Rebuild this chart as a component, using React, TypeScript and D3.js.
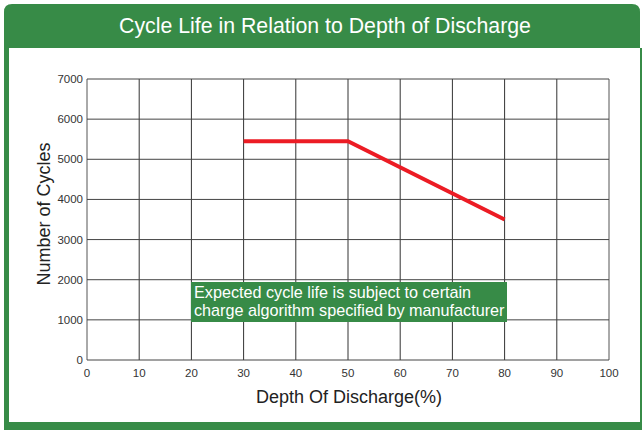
import * as d3 from "d3";

const W = 642, H = 430;
const GREEN = "#378b47";
const FONT = "Arial, 'Liberation Sans', Helvetica, sans-serif";

// data
const dod = [30, 50, 80];
const cycles = [5450, 5450, 3500];
const xTicks = [0, 10, 20, 30, 40, 50, 60, 70, 80, 90, 100];
const yTicks = [0, 1000, 2000, 3000, 4000, 5000, 6000, 7000];

const title = "Cycle Life in Relation to Depth of Discharge";
const note = [
  "Expected cycle life is subject to certain",
  "charge algorithm specified by manufacturer",
];

const M = { left: 87, right: 609, top: 79, bottom: 360 };

export default function App() {
  const x = d3.scaleLinear([0, 100], [M.left, M.right]);
  const y = d3.scaleLinear([0, 7000], [M.bottom, M.top]);
  const line = d3
    .line<number>()
    .x((d) => x(d))
    .y((_, i) => y(cycles[i]));

  return (
    <svg
      width={W}
      height={H}
      style={{ position: "fixed", left: 0, top: 0, background: "#fff", fontFamily: FONT }}
    >
      {/* green frame */}
      <path
        d={`M4,48 L4,12 Q4,4 12,4 L632,4 Q640,4 640,12 L640,48 Z`}
        fill={GREEN}
      />
      <rect x={4} y={48} width={5} height={376} fill={GREEN} />
      <rect x={640} y={48} width={2} height={376} fill={GREEN} />
      <rect x={4} y={422} width={638} height={8} fill={GREEN} />
      <text x={325} y={33} textAnchor="middle" fill="#fff" fontSize={21.3}>
        {title}
      </text>

      {/* grid */}
      {xTicks.map((t) => (
        <line key={"vx" + t} x1={x(t)} x2={x(t)} y1={M.top} y2={M.bottom}
          stroke={t === 0 || t === 100 ? "#555" : "#333"} strokeWidth={1} />
      ))}
      {yTicks.map((t) => (
        <line key={"hy" + t} x1={M.left} x2={M.right} y1={y(t)} y2={y(t)}
          stroke="#444" strokeWidth={1} />
      ))}

      {/* tick labels */}
      {yTicks.map((t) => (
        <text key={"ly" + t} x={M.left - 4} y={y(t) + 4} textAnchor="end"
          fontSize={11.5} fill="#333">
          {t}
        </text>
      ))}
      {xTicks.map((t) => (
        <text key={"lx" + t} x={x(t)} y={377} textAnchor="middle"
          fontSize={11.5} fill="#333">
          {t}
        </text>
      ))}

      {/* axis titles */}
      <text x={349} y={403} textAnchor="middle" fontSize={18} fill="#222">
        Depth Of Discharge(%)
      </text>
      <text transform={`translate(50,214) rotate(-90)`} textAnchor="middle"
        fontSize={18} fill="#222">
        Number of Cycles
      </text>

      {/* curve */}
      <path d={line(dod) ?? ""} fill="none" stroke="#ec1c24" strokeWidth={4} />

      {/* note */}
      <rect x={191} y={282} width={316} height={40} fill={GREEN} />
      {note.map((s, i) => (
        <text key={i} x={194} y={298 + i * 18} fill="#fff" fontSize={16.2}>
          {s}
        </text>
      ))}
    </svg>
  );
}
